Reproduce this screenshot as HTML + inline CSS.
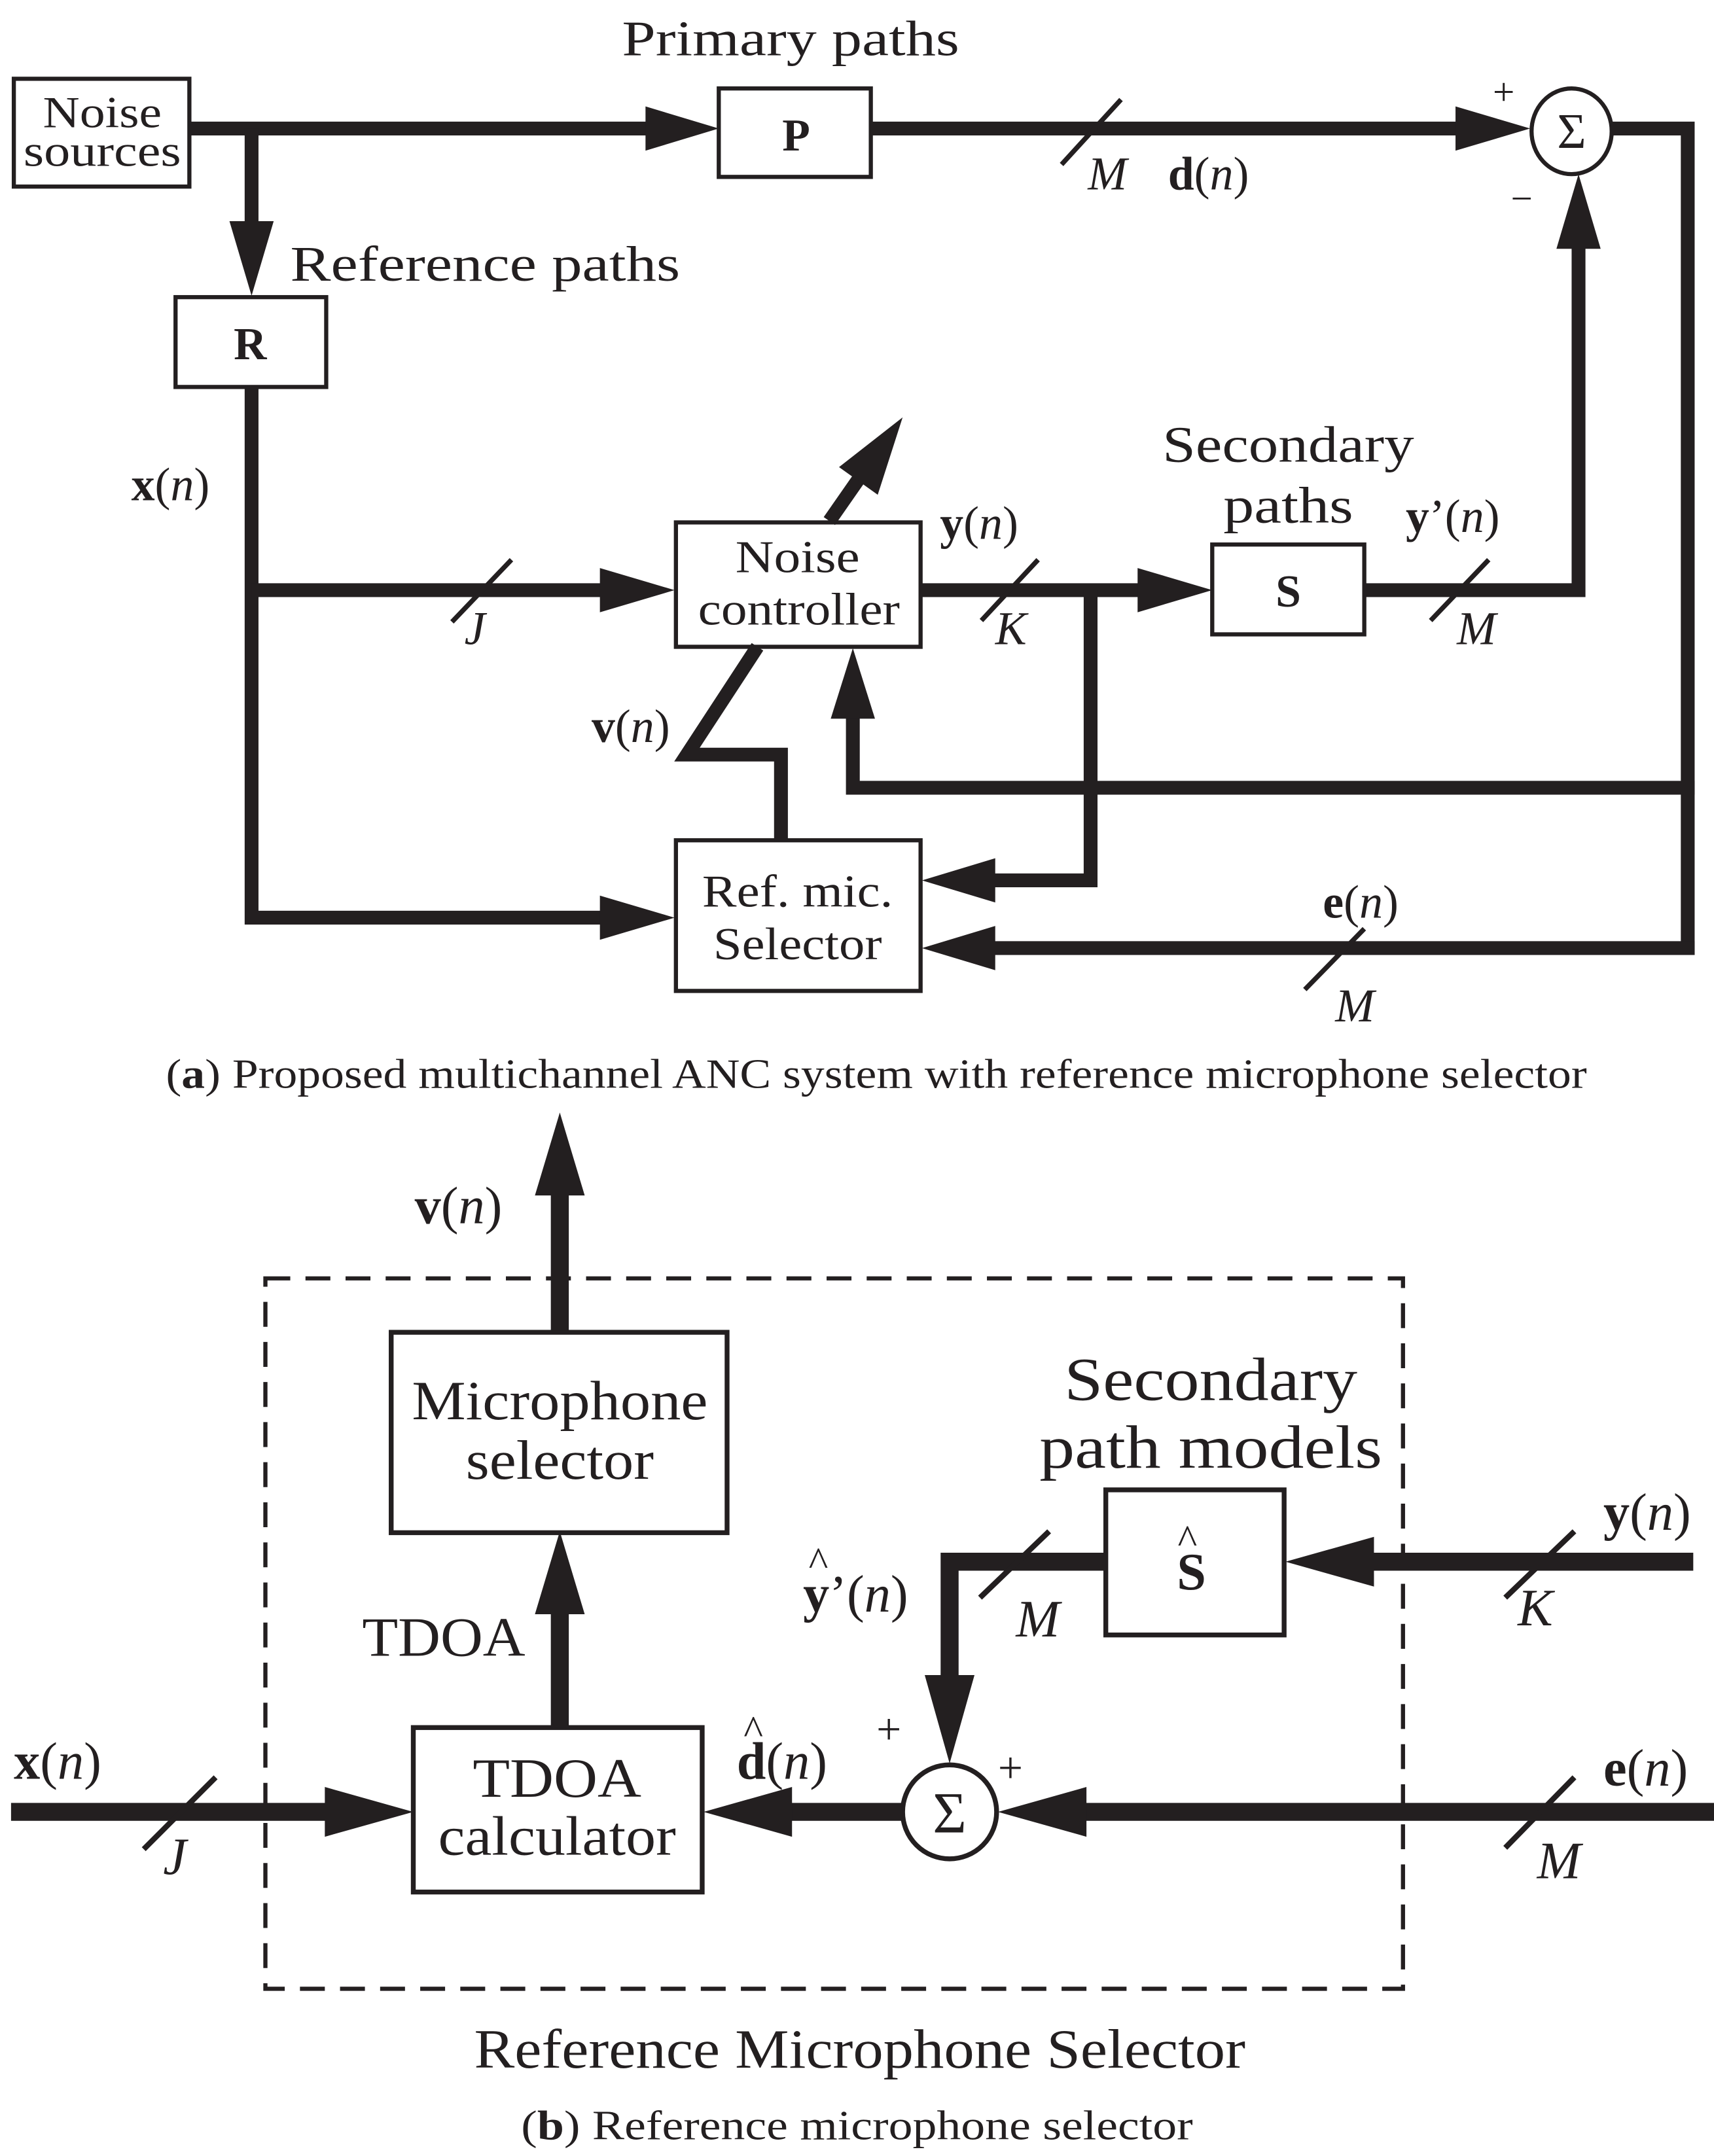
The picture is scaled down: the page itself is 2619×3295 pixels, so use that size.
<!DOCTYPE html>
<html><head><meta charset="utf-8"><style>
html,body{margin:0;padding:0;background:#fff;}
svg{display:block;}
text{font-family:"Liberation Serif",serif;fill:#231f20;}
.b{font-weight:bold;}
.i{font-style:italic;}
</style></head><body>
<svg width="2619" height="3295" viewBox="0 0 1240 1560" preserveAspectRatio="none" xmlns="http://www.w3.org/2000/svg">
<g stroke="#231f20" fill="none">
<rect x="10" y="57" width="127" height="78" stroke-width="3"/>
<rect x="520" y="64" width="110" height="64" stroke-width="3"/>
<rect x="127" y="215" width="109" height="65" stroke-width="3"/>
<rect x="489" y="378" width="177" height="90" stroke-width="3"/>
<rect x="877" y="394" width="110" height="65" stroke-width="3"/>
<rect x="489" y="608" width="177" height="109" stroke-width="3"/>
<ellipse cx="1137" cy="95" rx="29" ry="31" stroke-width="3"/>
<g stroke-width="10" stroke-linejoin="miter" stroke-linecap="butt">
<polyline points="137,93 470,93"/>
<polyline points="630,93 1055,93"/>
<polyline points="1166,93 1221,93 1221,691"/>
<polyline points="182,93 182,165"/>
<polyline points="182,280 182,664 436,664"/>
<polyline points="182,427 436,427"/>
<polyline points="666,427 826,427"/>
<polyline points="789,427 789,637 718,637"/>
<polyline points="987,427 1142,427 1142,178"/>
<polyline points="1226,570 617,570 617,518"/>
<polyline points="1226,686 718,686"/>
<polyline points="565,608 565,546 497,546 548,468"/>
<line x1="600" y1="377" x2="623" y2="344"/>
</g>
<g stroke-width="3.5">
<line x1="768" y1="119" x2="811" y2="72"/>
<line x1="327" y1="450" x2="370" y2="405"/>
<line x1="710" y1="449" x2="751" y2="405"/>
<line x1="1035" y1="449" x2="1077" y2="405"/>
<line x1="944" y1="716" x2="987" y2="672"/>
</g>
</g>
<g fill="#231f20">
<polygon points="520,93 467,77 467,109"/>
<polygon points="1107,93 1053,77 1053,109"/>
<polygon points="182,214 166,160 198,160"/>
<polygon points="488,664 434,648 434,680"/>
<polygon points="488,427 434,411 434,443"/>
<polygon points="877,427 823,411 823,443"/>
<polygon points="667,637 720,621 720,653"/>
<polygon points="1142,126 1126,180 1158,180"/>
<polygon points="617,469 601,520 633,520"/>
<polygon points="667,686 720,670 720,702"/>
<polygon points="653,302 635,358 607,338"/>
</g>
<text x="1137" y="107" font-size="36" text-anchor="middle">Σ</text>
<text x="450" y="40" font-size="36" textLength="244" lengthAdjust="spacingAndGlyphs">Primary paths</text>
<text x="74" y="92" font-size="32" text-anchor="middle" textLength="86" lengthAdjust="spacingAndGlyphs">Noise</text>
<text x="74" y="120" font-size="32" text-anchor="middle" textLength="114" lengthAdjust="spacingAndGlyphs">sources</text>
<text x="576" y="109" font-size="33" class="b" text-anchor="middle">P</text>
<text x="787" y="137" font-size="34" class="i">M</text>
<text x="845" y="137" font-size="34"><tspan class="b">d</tspan>(<tspan class="i">n</tspan>)</text>
<text x="1080" y="76" font-size="28">+</text>
<text x="1093" y="153" font-size="28">−</text>
<text x="210" y="203" font-size="36" textLength="282" lengthAdjust="spacingAndGlyphs">Reference paths</text>
<text x="181" y="260" font-size="33" class="b" text-anchor="middle">R</text>
<text x="95" y="362" font-size="34"><tspan class="b">x</tspan>(<tspan class="i">n</tspan>)</text>
<text x="336" y="466" font-size="34" class="i">J</text>
<text x="577" y="414" font-size="33" text-anchor="middle" textLength="90" lengthAdjust="spacingAndGlyphs">Noise</text>
<text x="578" y="452" font-size="33" text-anchor="middle" textLength="146" lengthAdjust="spacingAndGlyphs">controller</text>
<text x="680" y="390" font-size="34"><tspan class="b">y</tspan>(<tspan class="i">n</tspan>)</text>
<text x="720" y="466" font-size="34" class="i">K</text>
<text x="932" y="439" font-size="33" class="b" text-anchor="middle">S</text>
<text x="932" y="334" font-size="37" text-anchor="middle" textLength="182" lengthAdjust="spacingAndGlyphs">Secondary</text>
<text x="932" y="378" font-size="37" text-anchor="middle" textLength="94" lengthAdjust="spacingAndGlyphs">paths</text>
<text x="1017" y="385" font-size="34"><tspan class="b">y</tspan>’(<tspan class="i">n</tspan>)</text>
<text x="1054" y="466" font-size="34" class="i">M</text>
<text x="428" y="537" font-size="34"><tspan class="b">v</tspan>(<tspan class="i">n</tspan>)</text>
<text x="577" y="656" font-size="33" text-anchor="middle" textLength="138" lengthAdjust="spacingAndGlyphs">Ref. mic.</text>
<text x="577" y="694" font-size="33" text-anchor="middle" textLength="122" lengthAdjust="spacingAndGlyphs">Selector</text>
<text x="957" y="664" font-size="34"><tspan class="b">e</tspan>(<tspan class="i">n</tspan>)</text>
<text x="966" y="739" font-size="34" class="i">M</text>
<text x="120" y="787" font-size="30" textLength="1028" lengthAdjust="spacingAndGlyphs">(<tspan class="b">a</tspan>) Proposed multichannel ANC system with reference microphone selector</text>

<g stroke="#231f20" fill="none">
<rect x="192" y="925" width="823" height="514" stroke-width="3" stroke-dasharray="18,11"/>
<rect x="283" y="964" width="243" height="145" stroke-width="3.5"/>
<rect x="299" y="1250" width="209" height="119" stroke-width="3.5"/>
<rect x="800" y="1078" width="129" height="105" stroke-width="3.5"/>
<circle cx="687" cy="1311" r="34" stroke-width="3.5"/>
<g stroke-width="13">
<line x1="405" y1="964" x2="405" y2="860"/>
<line x1="405" y1="1250" x2="405" y2="1165"/>
<line x1="8" y1="1311" x2="240" y2="1311"/>
<line x1="653" y1="1311" x2="565" y2="1311"/>
<line x1="1240" y1="1311" x2="780" y2="1311"/>
<line x1="1225" y1="1130" x2="990" y2="1130"/>
<polyline points="800,1130 687,1130 687,1215"/>
</g>
<g stroke-width="4">
<line x1="104" y1="1338" x2="156" y2="1286"/>
<line x1="709" y1="1156" x2="759" y2="1108"/>
<line x1="1089" y1="1156" x2="1139" y2="1108"/>
<line x1="1089" y1="1337" x2="1139" y2="1286"/>
</g>
</g>
<g fill="#231f20">
<polygon points="405,805 387,865 423,865"/>
<polygon points="405,1108 387,1168 423,1168"/>
<polygon points="299,1311 235,1293 235,1329"/>
<polygon points="509,1311 573,1293 573,1329"/>
<polygon points="722,1311 786,1293 786,1329"/>
<polygon points="930,1130 994,1112 994,1148"/>
<polygon points="687,1276 669,1212 705,1212"/>
</g>
<text x="687" y="1326" font-size="42" text-anchor="middle">Σ</text>
<text x="405" y="1027" font-size="40" text-anchor="middle" textLength="214" lengthAdjust="spacingAndGlyphs">Microphone</text>
<text x="405" y="1070" font-size="40" text-anchor="middle" textLength="136" lengthAdjust="spacingAndGlyphs">selector</text>
<text x="403" y="1300" font-size="40" text-anchor="middle" textLength="122" lengthAdjust="spacingAndGlyphs">TDOA</text>
<text x="403" y="1342" font-size="40" text-anchor="middle" textLength="172" lengthAdjust="spacingAndGlyphs">calculator</text>
<text x="262" y="1198" font-size="40" textLength="118" lengthAdjust="spacingAndGlyphs">TDOA</text>
<text x="300" y="885" font-size="38"><tspan class="b">v</tspan>(<tspan class="i">n</tspan>)</text>
<text x="10" y="1287" font-size="38"><tspan class="b">x</tspan>(<tspan class="i">n</tspan>)</text>
<text x="118" y="1356" font-size="38" class="i">J</text>
<text x="533" y="1287" font-size="38"><tspan class="b">d</tspan>(<tspan class="i">n</tspan>)</text>
<text x="538" y="1262" font-size="30">^</text>
<text x="634" y="1262" font-size="32">+</text>
<text x="722" y="1290" font-size="32">+</text>
<text x="581" y="1166" font-size="38"><tspan class="b">y</tspan>’(<tspan class="i">n</tspan>)</text>
<text x="585" y="1140" font-size="30">^</text>
<text x="735" y="1184" font-size="38" class="i">M</text>
<text x="1098" y="1176" font-size="38" class="i">K</text>
<text x="1112" y="1359" font-size="38" class="i">M</text>
<text x="1160" y="1107" font-size="38"><tspan class="b">y</tspan>(<tspan class="i">n</tspan>)</text>
<text x="1160" y="1292" font-size="38"><tspan class="b">e</tspan>(<tspan class="i">n</tspan>)</text>
<text x="862" y="1150" font-size="38" class="b" text-anchor="middle">S</text>
<text x="852" y="1124" font-size="30">^</text>
<text x="876" y="1013" font-size="44" text-anchor="middle" textLength="212" lengthAdjust="spacingAndGlyphs">Secondary</text>
<text x="876" y="1062" font-size="44" text-anchor="middle" textLength="248" lengthAdjust="spacingAndGlyphs">path models</text>
<text x="622" y="1496" font-size="40" text-anchor="middle" textLength="558" lengthAdjust="spacingAndGlyphs">Reference Microphone Selector</text>
<text x="620" y="1548" font-size="30" text-anchor="middle" textLength="486" lengthAdjust="spacingAndGlyphs">(<tspan class="b">b</tspan>) Reference microphone selector</text>
</svg>
</body></html>
